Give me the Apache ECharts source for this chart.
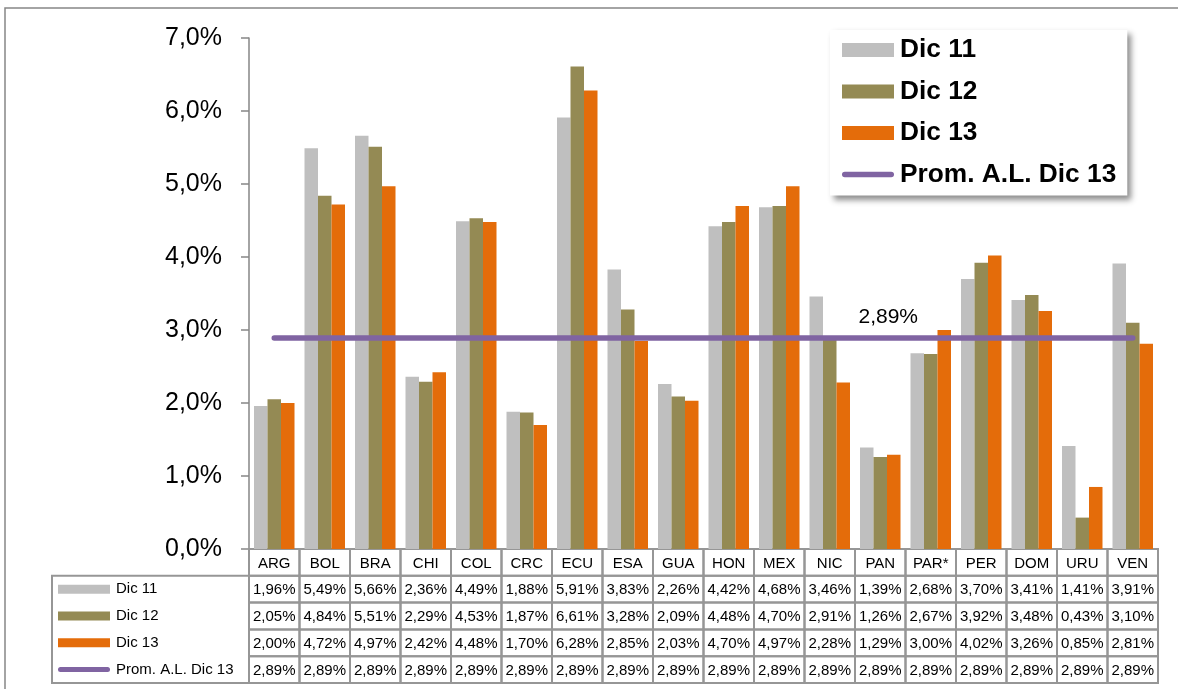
<!DOCTYPE html>
<html><head><meta charset="utf-8">
<script src="https://cdn.jsdelivr.net/npm/echarts@6/dist/echarts.min.js"></script>
<style>html,body{margin:0;padding:0;background:#fff}#c{width:1178px;height:689px}</style>
</head><body><div id="c"></div>
<script>
const categories = ['ARG','BOL','BRA','CHI','COL','CRC','ECU','ESA','GUA','HON','MEX','NIC','PAN','PAR*','PER','DOM','URU','VEN'];
const dic11 = [1.96,5.49,5.66,2.36,4.49,1.88,5.91,3.83,2.26,4.42,4.68,3.46,1.39,2.68,3.70,3.41,1.41,3.91];
const dic12 = [2.05,4.84,5.51,2.29,4.53,1.87,6.61,3.28,2.09,4.48,4.70,2.91,1.26,2.67,3.92,3.48,0.43,3.10];
const dic13 = [2.00,4.72,4.97,2.42,4.48,1.70,6.28,2.85,2.03,4.70,4.97,2.28,1.29,3.00,4.02,3.26,0.85,2.81];
const prom  = [2.89,2.89,2.89,2.89,2.89,2.89,2.89,2.89,2.89,2.89,2.89,2.89,2.89,2.89,2.89,2.89,2.89,2.89];
const seriesNames = ['Dic 11','Dic 12','Dic 13','Prom. A.L. Dic 13'];
const yTicks = [0,1,2,3,4,5,6,7];
const promLabelIndex = 12;

const colors = ['#BFBFBF','#948A54','#E46C0A','#8064A2'];
const FONT = 'Liberation Sans, Arial, sans-serif';
const fmt2 = v => v.toFixed(2).replace('.', ',') + '%';
const rowKeys = ['cat','r0','r1','r2','r3'];
const seriesVals = [dic11, dic12, dic13, prom];

const tableData = [];
categories.forEach((c, i) => {
  tableData.push([i, 0, c]);
  seriesVals.forEach((arr, s) => tableData.push([i, s + 1, fmt2(arr[i])]));
});

const chart = echarts.init(document.getElementById('c'), null, {renderer: 'canvas'});
const barCommon = {type: 'bar', xAxisIndex: 0, yAxisIndex: 0, barWidth: 13.5, barGap: '0%'};
chart.setOption({
  animation: false,
  textStyle: {fontFamily: FONT},
  grid: [
    {left: 249, right: 20, top: 38, bottom: 140},
    {left: 249, right: 20, top: 549, bottom: 6}
  ],
  xAxis: [
    {type: 'category', gridIndex: 0, data: categories,
     axisLine: {lineStyle: {color: '#868686', width: 1.5}}, axisTick: {show: false}, axisLabel: {show: false}},
    {type: 'category', gridIndex: 1, data: categories, show: false}
  ],
  yAxis: [
    {type: 'value', gridIndex: 0, min: yTicks[0], max: yTicks[yTicks.length - 1], interval: 1,
     axisLine: {show: true, lineStyle: {color: '#868686', width: 1.5}},
     axisTick: {show: true, length: 8, lineStyle: {color: '#868686', width: 1.5}},
     splitLine: {show: false},
     axisLabel: {margin: 27, fontSize: 25, color: '#000', fontFamily: FONT,
       formatter: v => v.toFixed(1).replace('.', ',') + '%'}},
    {type: 'category', gridIndex: 1, inverse: true, data: rowKeys,
     axisLine: {show: false}, axisTick: {show: false}, splitLine: {show: false},
     axisLabel: {align: 'left', margin: 191, fontFamily: FONT,
       formatter: (v, i) => i === 0 ? '' : '{s' + (i - 1) + '|}{t|' + seriesNames[i - 1] + '}',
       rich: {
         s0: {backgroundColor: colors[0], width: 52, height: 9},
         s1: {backgroundColor: colors[1], width: 52, height: 9},
         s2: {backgroundColor: colors[2], width: 52, height: 9},
         s3: {backgroundColor: colors[3], width: 52, height: 5, borderRadius: 3},
         t: {fontSize: 15, color: '#000', padding: [0, 0, 0, 6], fontFamily: FONT}
       }}}
  ],
  legend: {
    orient: 'vertical', left: 830, top: 30,
    backgroundColor: '#fff', borderWidth: 0,
    shadowColor: 'rgba(0,0,0,0.45)', shadowBlur: 6, shadowOffsetX: 4, shadowOffsetY: 4,
    padding: [7, 11, 8, 12],
    itemWidth: 52, itemHeight: 14, itemGap: 15.5, symbolKeepAspect: true,
    textStyle: {fontSize: 26.3, fontWeight: 'bold', color: '#000', fontFamily: FONT, lineHeight: 26, padding: [0, 0, 0, 1]},
    data: [
      {name: seriesNames[0], icon: 'rect'},
      {name: seriesNames[1], icon: 'rect'},
      {name: seriesNames[2], icon: 'rect'},
      {name: seriesNames[3], icon: 'path://M3,0 L53,0 A3,3 0 0 1 53,6 L3,6 A3,3 0 0 1 3,0 Z'}
    ]
  },
  graphic: [
    {type: 'rect', shape: {x: 5, y: 8, width: 1300, height: 800}, style: {fill: 'none', stroke: '#868686', lineWidth: 1.5}, silent: true, z: -10},
    {type: 'rect', shape: {x: 52, y: 575.8, width: 197, height: 107.2}, style: {fill: 'none', stroke: '#969696', lineWidth: 2}, silent: true}
  ],
  series: [
    Object.assign({name: seriesNames[0], data: dic11, itemStyle: {color: colors[0]}}, barCommon),
    Object.assign({name: seriesNames[1], data: dic12, itemStyle: {color: colors[1]}}, barCommon),
    Object.assign({name: seriesNames[2], data: dic13, itemStyle: {color: colors[2]}}, barCommon),
    {name: seriesNames[3], type: 'line', xAxisIndex: 0, yAxisIndex: 0,
     data: prom.map((v, i) => i === promLabelIndex ? {value: v, label: {show: true}} : v),
     symbol: 'circle', symbolSize: 0.01, showSymbol: true, showAllSymbol: true, z: 5,
     lineStyle: {color: colors[3], width: 5.5, cap: 'round'}, itemStyle: {color: colors[3]},
     label: {show: false, position: 'top', distance: 10, offset: [8, 0], fontSize: 21, color: '#000', fontFamily: FONT,
       formatter: p => p.value.toFixed(2).replace('.', ',') + '%'}},
    {type: 'custom', xAxisIndex: 1, yAxisIndex: 1, data: tableData, silent: true, clip: false,
     renderItem: (params, api) => {
       const c = api.coord([api.value(0), api.value(1)]);
       const sz = api.size([1, 1]);
       const txt = tableData[params.dataIndex][2];
       return {type: 'group', children: [
         {type: 'rect', shape: {x: c[0] - sz[0] / 2, y: c[1] - sz[1] / 2, width: sz[0], height: sz[1]},
          style: {fill: 'none', stroke: '#969696', lineWidth: 2}},
         {type: 'text', style: {x: c[0], y: c[1] + 1, text: txt, textAlign: 'center', textVerticalAlign: 'middle',
           fontSize: 15, fontFamily: FONT, fill: '#000'}}
       ]};
     }}
  ]
});
</script></body></html>
